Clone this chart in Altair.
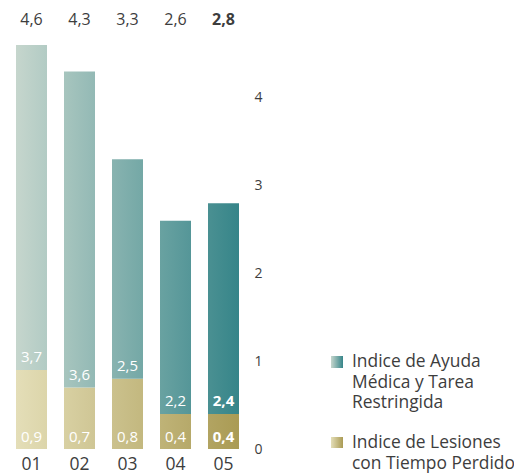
import altair as alt
import pandas as pd

years = ["01", "02", "03", "04", "05"]
totals = [4.6, 4.3, 3.3, 2.6, 2.8]
ayuda = [3.7, 3.6, 2.5, 2.2, 2.4]
lesiones = [0.9, 0.7, 0.8, 0.4, 0.4]
series_names = ["Indice de Ayuda\nMédica y Tarea\nRestringida",
                "Indice de Lesiones\ncon Tiempo Perdido"]
y_ticks = [0, 1, 2, 3, 4]

df = pd.DataFrame({"year": years, "total": totals, "ayuda": ayuda, "lesiones": lesiones})

FONT = "Open Sans"
TXT = "#3d3d3d"

TEAL_L, TEAL_R = (198, 214, 205), (54, 133, 137)
GOLD_L, GOLD_R = (228, 222, 184), (170, 155, 84)


def mix(a, b, t):
    return "#%02x%02x%02x" % tuple(round(a[k] + (b[k] - a[k]) * t) for k in range(3))


def grad(left, right, t0, t1):
    return alt.Gradient(gradient="linear", x1=0, x2=1, y1=0, y2=0,
                        stops=[alt.GradientStop(offset=0, color=mix(left, right, t0)),
                               alt.GradientStop(offset=1, color=mix(left, right, t1))])


xscale = alt.Scale(domain=years, paddingInner=17 / 48, paddingOuter=3 / 48)
xaxis = alt.Axis(title=None, domain=False, ticks=False, grid=False, labelAngle=0,
                 labelFont=FONT, labelFontSize=17.5, labelColor=TXT, labelPadding=6)
yscale = alt.Scale(domain=[0, 5], nice=False)
yaxis = alt.Axis(title=None, orient="right", values=y_ticks, domain=False, ticks=False,
                 grid=False, labelFont=FONT, labelFontSize=14, labelColor=TXT,
                 labelPadding=12)


def X():
    return alt.X("year:N", scale=xscale, axis=xaxis)


def Y(field):
    return alt.Y(field, type="quantitative", scale=yscale, axis=yaxis)


base = alt.Chart(df).transform_calculate(
    lab_total="replace(format(datum.total, '.1f'), '.', ',')",
    lab_ayuda="replace(format(datum.ayuda, '.1f'), '.', ',')",
    lab_les="replace(format(datum.lesiones, '.1f'), '.', ',')",
)

layers = []
n = len(years)
span = 48 * (n - 1) + 31
for i, yr in enumerate(years):
    t0 = 48 * i / span
    t1 = (48 * i + 31) / span
    seg = base.transform_filter(alt.datum.year == yr)
    layers.append(seg.mark_bar(color=grad(GOLD_L, GOLD_R, t0, t1)).encode(
        x=X(), y=Y("lesiones"), y2=alt.Y2(datum=0)))
    layers.append(seg.mark_bar(color=grad(TEAL_L, TEAL_R, t0, t1)).encode(
        x=X(), y=Y("lesiones"), y2=alt.Y2("total")))

for bold in (False, True):
    cond = (alt.datum.year == "05") if bold else (alt.datum.year != "05")
    fw = "bold" if bold else "normal"
    sub = base.transform_filter(cond)
    layers.append(sub.mark_text(font=FONT, fontSize=16, color=TXT, fontWeight=fw,
                                baseline="middle").encode(
        x=X(), y=alt.value(10), text="lab_total:N"))
    layers.append(sub.mark_text(font=FONT, fontSize=15, color="white", fontWeight=fw,
                                baseline="middle", dy=-13).encode(
        x=X(), y=Y("lesiones"), text="lab_ayuda:N"))
    layers.append(sub.mark_text(font=FONT, fontSize=15, color="white", fontWeight=fw,
                                baseline="middle", dy=-12).encode(
        x=X(), y=alt.Y(datum=0, scale=yscale, axis=yaxis), text="lab_les:N"))

# legend
leg_y = [(346, 358, 357), (427, 438, 438)]
leg_cols = [(TEAL_L, TEAL_R), (GOLD_L, GOLD_R)]
for name, (ya, yb, tb), (cl, cr) in zip(series_names, leg_y, leg_cols):
    ld = alt.Chart(pd.DataFrame({"serie": [name]}))
    layers.append(ld.mark_rect(color=grad(cl, cr, 0, 1)).encode(
        x=alt.value(318), x2=alt.value(330), y=alt.value(ya), y2=alt.value(yb)))
    layers.append(ld.mark_text(font=FONT, fontSize=17.4, color=TXT, align="left",
                               baseline="alphabetic", lineBreak="\n", lineHeight=20.5).encode(
        x=alt.value(339), y=alt.value(tb), text="serie:N"))

chart = alt.layer(*layers).properties(
    width=229, height=439,
    autosize=alt.AutoSizeParams(type="none"),
    padding={"left": 5, "top": 2, "right": 272, "bottom": 24},
).configure_view(stroke=None)

chart.save("out.html", embed_options={"renderer": "svg", "actions": False})
